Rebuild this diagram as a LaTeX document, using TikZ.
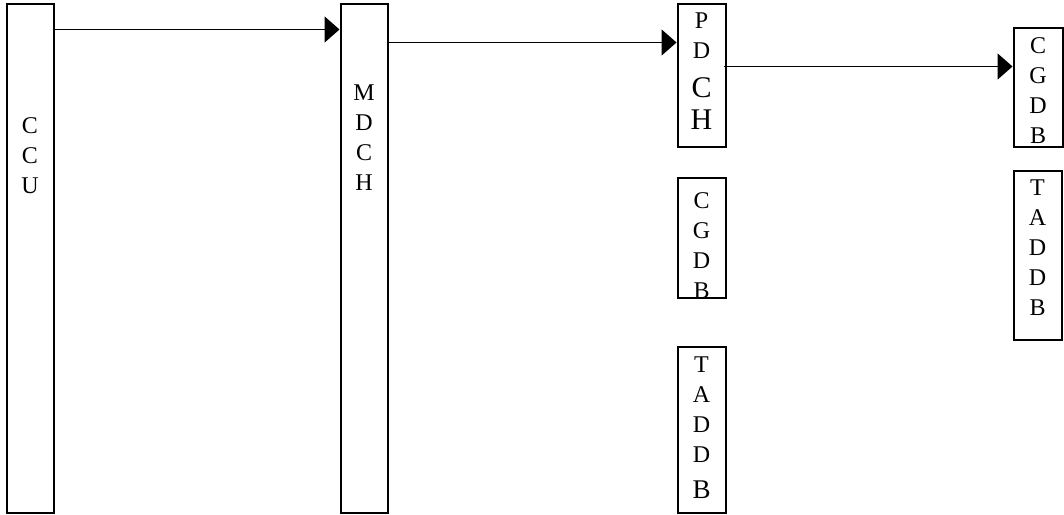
\documentclass[tikz,border=0pt]{standalone}
\usepackage{fontspec}
\setmainfont{Liberation Serif}
\usetikzlibrary{arrows.meta}

\tikzset{
    box/.style={draw, line width=2pt, minimum width=47pt, inner sep=0pt},
    letters/.style={align=center, inner sep=0pt, anchor=north, font=\fontsize{24}{30}\selectfont},
    flow/.style={-{Triangle[length=15pt, width=26pt]}, line width=1.6pt},
}

\begin{document}
\begin{tikzpicture}[x=1pt, y=-1pt]
        \useasboundingbox (0,0) rectangle (1064,514);

        % Draw the tall boxes
        \node[box, minimum height=509pt] (ccu) at (30,258) {};
        \node[box, minimum height=509pt] (mdch) at (364,258) {};

        % Draw the middle column
        \node[box, minimum width=48pt, minimum height=143pt] (pdch) at (701.5,75) {};
        \node[box, minimum width=48pt, minimum height=120pt] (cgdbA) at (701.5,237.5) {};
        \node[box, minimum width=48pt, minimum height=166pt] (taddbA) at (701.5,429.5) {};

        % Draw the right column
        \node[box, minimum width=49pt, minimum height=119pt] (cgdbB) at (1038,87) {};
        \node[box, minimum width=48pt, minimum height=169pt] (taddbB) at (1037.5,255) {};

        % Label the boxes
        \node[letters] (ccuText) at (30,117) {C\\C\\U};
        \node[letters] (mdchText) at (364,85) {M\\D\\C\\H};
        \node[letters] (pdchText) at (701.5,13) {P\\D\\[9pt]{\fontsize{30}{30}\selectfont C}\\[2pt]{\fontsize{30}{30}\selectfont H}};
        \node[letters] (cgdbAText) at (701.5,192) {C\\G\\D\\B};
        \node[letters] (taddbAText) at (701.5,357) {T\\A\\D\\D\\[6pt]{\fontsize{27}{27}\selectfont B}};
        \node[letters] (cgdbBText) at (1038,37) {C\\G\\D\\B};
        \node[letters] (taddbBText) at (1037.5,180) {T\\A\\D\\D\\B};

        % Draw the arrows
        \draw[flow] ([yshift=-27pt]ccu.north east) -- ([yshift=-27pt]mdch.north west);
        \draw[flow] ([yshift=-40pt]mdch.north east) -- ([yshift=-40pt]pdch.north west);
        \draw[flow] ([xshift=-3pt, yshift=-64pt]pdch.north east) -- ([yshift=-40pt]cgdbB.north west);
    \end{tikzpicture}
\end{document}
